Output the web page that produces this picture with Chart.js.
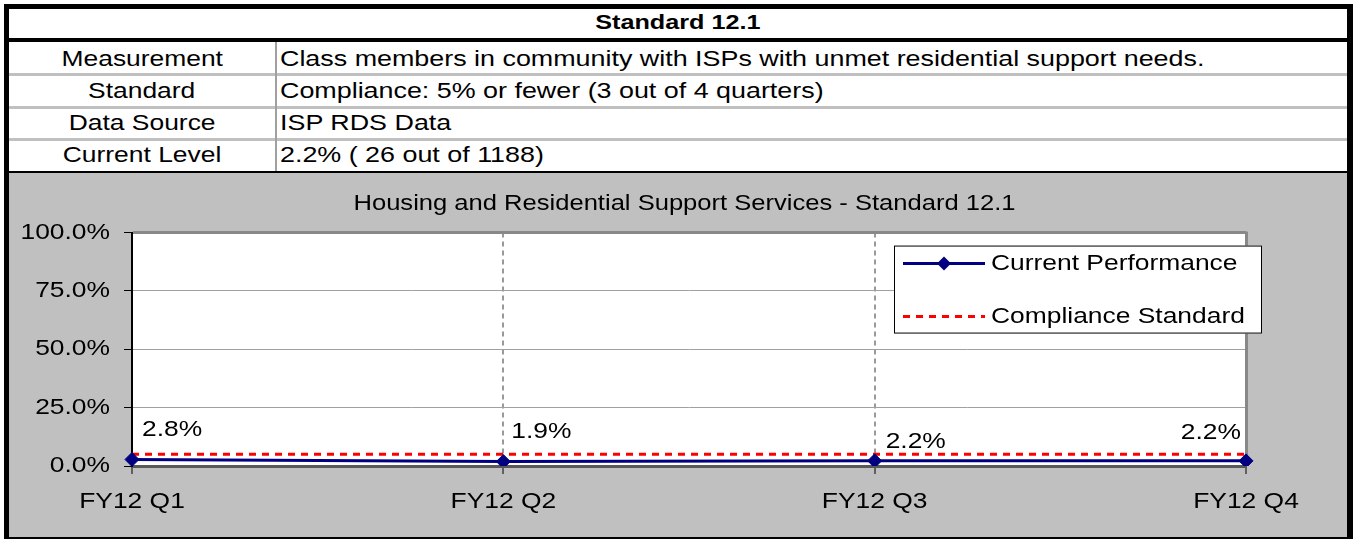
<!DOCTYPE html>
<html>
<head>
<meta charset="utf-8">
<script src="https://cdn.jsdelivr.net/npm/chart.js@4.4.1/dist/chart.umd.min.js"></script>
<style>
html,body{margin:0;padding:0;background:#fff;width:1353px;height:539px;overflow:hidden;font-family:'Liberation Sans',Arial,sans-serif;}
.blk{position:absolute;background:#000;}
.gl{position:absolute;background:#c0c0c0;}
.t{position:absolute;font-size:22px;line-height:22px;height:22px;white-space:nowrap;color:#000;}
.t span{display:inline-block;transform:scaleX(1.2);}
.c{text-align:center;}
.c span{transform-origin:50% 50%;}
.l{font-size:22.4px;}
.l span{transform-origin:0 50%;}
#wrap{position:absolute;left:9px;top:173px;width:1338px;height:364px;background:#c0c0c0;}
#wrap canvas{display:block;}
</style>
</head>
<body>
<div class="blk" style="left:4px;top:4px;width:1349px;height:5px"></div>
<div class="blk" style="left:4px;top:4px;width:5px;height:535px"></div>
<div class="blk" style="left:1347px;top:4px;width:6px;height:535px"></div>
<div class="blk" style="left:4px;top:537px;width:1349px;height:2px"></div>
<div class="blk" style="left:9px;top:38px;width:1338px;height:4px"></div>
<div class="gl" style="left:9px;top:73px;width:1338px;height:3px"></div>
<div class="gl" style="left:9px;top:106px;width:1338px;height:3px"></div>
<div class="gl" style="left:9px;top:138px;width:1338px;height:3px"></div>
<div class="blk" style="left:9px;top:171px;width:1338px;height:2px"></div>
<div style="position:absolute;left:275px;top:42px;width:2px;height:129px;background:#a0a0a0"></div>

<div class="t c" style="left:9px;top:11px;width:1338px;font-size:21px;line-height:21px;font-weight:bold"><span>Standard 12.1</span></div>
<div class="t c" style="left:9px;top:48px;width:266px"><span>Measurement</span></div>
<div class="t l" style="left:280px;top:48px"><span>Class members in community with ISPs with unmet residential support needs.</span></div>
<div class="t c" style="left:9px;top:80px;width:266px"><span>Standard</span></div>
<div class="t l" style="left:280px;top:80px"><span>Compliance: 5% or fewer (3 out of 4 quarters)</span></div>
<div class="t c" style="left:9px;top:112px;width:266px"><span>Data Source</span></div>
<div class="t l" style="left:280px;top:112px"><span>ISP RDS Data</span></div>
<div class="t c" style="left:9px;top:144px;width:266px"><span>Current Level</span></div>
<div class="t l" style="left:280px;top:144px"><span>2.2% ( 26 out of 1188)</span></div>

<div id="wrap"><canvas id="c" width="1338" height="364"></canvas></div>

<script>
// ---- data ----
const categories = ['FY12 Q1', 'FY12 Q2', 'FY12 Q3', 'FY12 Q4'];
const currentPerformance = [2.8, 1.9, 2.2, 2.2];
const complianceStandard = [5, 5, 5, 5];
const seriesNames = ['Current Performance', 'Compliance Standard'];
const chartTitle = 'Housing and Residential Support Services - Standard 12.1';
const yMin = 0, yMax = 100, yStep = 25;

// ---- styles ----
const FONT = "'Liberation Sans', Arial, sans-serif";
const SX = 1.2; // horizontal text stretch of the original picture
// label offsets relative to each point: [dx, dy, align]
const labelOffsets = [[10, -30, 'left'], [8, -30, 'left'], [11, -19, 'left'], [-5, -28, 'right']];

function stretchText(ctx) {
  const P = CanvasRenderingContext2D.prototype;
  ctx.fillText = function (t, x, y, mw) {
    this.save();
    this.translate(x, y);
    this.scale(SX, 1);
    if (mw === undefined || mw === null) P.fillText.call(this, t, 0, 0);
    else P.fillText.call(this, t, 0, 0, mw / SX);
    this.restore();
  };
  ctx.measureText = function (t) {
    const m = P.measureText.call(this, t);
    return {
      width: m.width * SX,
      actualBoundingBoxAscent: m.actualBoundingBoxAscent,
      actualBoundingBoxDescent: m.actualBoundingBoxDescent,
      actualBoundingBoxLeft: m.actualBoundingBoxLeft * SX,
      actualBoundingBoxRight: m.actualBoundingBoxRight * SX,
      fontBoundingBoxAscent: m.fontBoundingBoxAscent,
      fontBoundingBoxDescent: m.fontBoundingBoxDescent
    };
  };
}

const bgPlugin = {
  id: 'bg',
  beforeDraw(chart) {
    const {ctx, chartArea: a} = chart;
    ctx.save();
    ctx.fillStyle = '#c0c0c0';
    ctx.fillRect(0, 0, chart.width, chart.height);
    ctx.fillStyle = '#ffffff';
    ctx.fillRect(a.left, a.top, a.right - a.left, a.bottom - a.top);
    ctx.restore();
  },
  beforeDatasetsDraw(chart) {
    const {ctx, chartArea: a} = chart;
    ctx.save();
    ctx.strokeStyle = '#888888';
    ctx.lineWidth = 3;
    ctx.beginPath();
    ctx.moveTo(a.right + 0.5, a.top - 1);
    ctx.lineTo(a.right + 0.5, a.bottom);
    ctx.stroke();
    ctx.restore();
  }
};

const labelPlugin = {
  id: 'dlabels',
  afterDatasetsDraw(chart) {
    const {ctx} = chart;
    const meta = chart.getDatasetMeta(0);
    ctx.save();
    ctx.font = '22px ' + FONT;
    ctx.fillStyle = '#000';
    ctx.textBaseline = 'middle';
    meta.data.forEach((pt, i) => {
      const o = labelOffsets[i];
      ctx.textAlign = o[2];
      ctx.fillText(chart.data.datasets[0].data[i].toFixed(1) + '%', pt.x + o[0], pt.y + o[1]);
    });
    ctx.restore();
  }
};

const legendPlugin = {
  id: 'boxLegend',
  afterDraw(chart) {
    const {ctx, chartArea: a} = chart;
    const L = a.right - 352, T = a.top + 13, W = 368, H = 88;
    ctx.save();
    ctx.fillStyle = '#fff';
    ctx.fillRect(L, T, W, H);
    ctx.strokeStyle = '#000';
    ctx.lineWidth = 1;
    ctx.strokeRect(L + 0.5, T + 0.5, W - 1, H - 1);
    const rows = [T + 18, T + 71];
    chart.data.datasets.forEach((ds, i) => {
      const y = rows[i];
      ctx.save();
      ctx.strokeStyle = ds.borderColor;
      ctx.lineWidth = ds.borderWidth;
      ctx.setLineDash(ds.borderDash || []);
      ctx.beginPath();
      ctx.moveTo(L + 9, y);
      ctx.lineTo(L + 91, y);
      ctx.stroke();
      ctx.restore();
      if (ds.pointRadius > 0) {
        ctx.fillStyle = ds.pointBackgroundColor;
        ctx.beginPath();
        ctx.moveTo(L + 50 - ds.pointRadius, y);
        ctx.lineTo(L + 50, y - ds.pointRadius);
        ctx.lineTo(L + 50 + ds.pointRadius, y);
        ctx.lineTo(L + 50, y + ds.pointRadius);
        ctx.closePath();
        ctx.fill();
      }
      ctx.fillStyle = '#000';
      ctx.font = '22px ' + FONT;
      ctx.textAlign = 'left';
      ctx.textBaseline = 'middle';
      ctx.fillText(ds.label, L + 97, y);
    });
    ctx.restore();
  }
};

const canvas = document.getElementById('c');
const ctx = canvas.getContext('2d');
stretchText(ctx);

new Chart(ctx, {
  type: 'line',
  data: {
    labels: categories,
    datasets: [
      {
        label: seriesNames[0], data: currentPerformance,
        borderColor: '#000080', backgroundColor: '#000080', borderWidth: 3,
        pointStyle: 'rectRot', pointRadius: 7, pointBackgroundColor: '#000080',
        pointBorderColor: '#000080', pointBorderWidth: 1, tension: 0, order: 0
      },
      {
        label: seriesNames[1], data: complianceStandard,
        borderColor: '#ff0000', backgroundColor: '#ff0000', borderWidth: 3,
        borderDash: [7, 6], pointRadius: 0, tension: 0, order: 1
      }
    ]
  },
  options: {
    responsive: false, animation: false, devicePixelRatio: 1,
    layout: {padding: {left: 13, right: 0, top: 0, bottom: 0}},
    plugins: {
      legend: {display: false},
      tooltip: {enabled: false},
      title: {
        display: true, text: chartTitle, color: '#000',
        font: {family: FONT, size: 21.3, weight: 'normal'},
        padding: {top: 18, bottom: 16}
      }
    },
    scales: {
      x: {
        type: 'category', offset: false,
        grid: {
          color: c => (c.index === 1 || c.index === 2) ? '#999999' : 'rgba(0,0,0,0)',
          lineWidth: 2, tickColor: '#000', tickWidth: 1, tickLength: 8, drawOnChartArea: true
        },
        border: {display: true, color: '#595959', width: 3, dash: [5, 4]},
        ticks: {color: '#000', font: {family: FONT, size: 22}, padding: 15, maxRotation: 0, autoSkip: false},
        afterFit(s) { s.height = 71; s.paddingRight = 101; s.paddingLeft = 0; }
      },
      y: {
        min: yMin, max: yMax,
        ticks: {stepSize: yStep, callback: v => v.toFixed(1) + '%', color: '#000', font: {family: FONT, size: 22}, padding: 14},
        grid: {
          color: c => c.tick.value === yMax ? '#888888' : (c.tick.value === yMin ? 'rgba(0,0,0,0)' : '#a0a0a0'),
          lineWidth: c => c.tick.value === yMax ? 3 : 1,
          tickColor: '#000', tickWidth: 1, tickLength: 8
        },
        border: {display: true, color: '#000', width: 2},
        afterFit(s) { s.width = 110; }
      }
    }
  },
  plugins: [bgPlugin, labelPlugin, legendPlugin]
});
</script>
</body>
</html>
